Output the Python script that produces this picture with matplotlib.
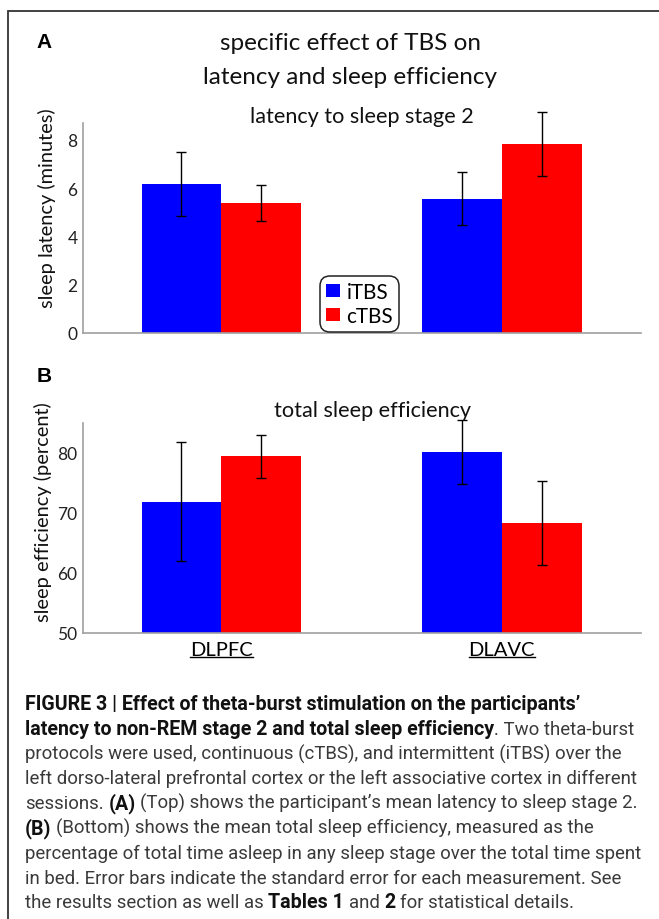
import matplotlib.pyplot as plt
from matplotlib.patches import Rectangle
from matplotlib.lines import Line2D
import numpy as np

groups = ['DLPFC', 'DLAVC']
protocols = ['iTBS', 'cTBS']
colors = ['#0000ff', '#ff0000']

# panel A: latency to stage 2 (minutes)
lat_itbs = [6.17, 5.55]
lat_ctbs = [5.37, 7.82]
lat_itbs_se = [1.34, 1.10]
lat_ctbs_se = [0.74, 1.33]

# panel B: total sleep efficiency (percent)
eff_itbs = [71.8, 80.1]
eff_ctbs = [79.3, 68.2]
eff_itbs_se = [9.85, 5.3]
eff_ctbs_se = [3.55, 6.95]

chart_font = 'Lato'
cap_font = 'Roboto'

W, H = 659, 920
fig = plt.figure(figsize=(W / 100, H / 100), dpi=100)
renderer = fig.canvas.get_renderer()


def fx(px):
    return px / W


def fy(py):
    return 1 - py / H


def text_w(s, size, family, bold=False):
    t = fig.text(0, 0, s, fontsize=size, family=family,
                 fontweight='bold' if bold else 'normal')
    wd = t.get_window_extent(renderer).width
    t.remove()
    return wd


def fit_size(s, target_px, family, bold=False):
    # font size that makes the string about as wide as in the reference
    return 10 * target_px / text_w(s, 10, family, bold)


# frame round the figure (right and bottom edges fall outside)
fig.patches.append(Rectangle((fx(8), -0.1), 1.2, fy(12) + 0.1, transform=fig.transFigure,
                             fill=False, ec='#333333', lw=1.3))

x = np.arange(len(groups))
w = 0.284


def draw_panel(ax, itbs, ctbs, itbs_se, ctbs_se, ylim, yticks):
    ax.bar(x - w / 2, itbs, w, color=colors[0], label=protocols[0])
    ax.bar(x + w / 2, ctbs, w, color=colors[1], label=protocols[1])
    ax.errorbar(x - w / 2, itbs, yerr=itbs_se, fmt='none', ecolor='black', elinewidth=1,
                capsize=3.5, capthick=1, clip_on=False)
    ax.errorbar(x + w / 2, ctbs, yerr=ctbs_se, fmt='none', ecolor='black', elinewidth=1,
                capsize=3.5, capthick=1, clip_on=False)
    ax.set_xlim(-0.493, 1.496)
    ax.set_ylim(*ylim)
    ax.set_yticks(yticks)
    for s in ['top', 'right']:
        ax.spines[s].set_visible(False)
    for s in ['left', 'bottom']:
        ax.spines[s].set_color('#a0a0a0')
        ax.spines[s].set_linewidth(1.2)
    ax.tick_params(length=0, labelsize=12.5, pad=4)
    for lab in ax.get_yticklabels():
        lab.set_family(chart_font)
        lab.set_color('#222222')


axA = fig.add_axes([fx(83), fy(334), fx(641) - fx(83), (334 - 124.3) / H])
draw_panel(axA, lat_itbs, lat_ctbs, lat_itbs_se, lat_ctbs_se, (0, 8.68), [0, 2, 4, 6, 8])
axA.set_xticks([])
leg_size = fit_size('iTBS', 42, chart_font)
leg = axA.legend(loc='lower center', bbox_to_anchor=(0.4955, 0.004),
                 prop={'family': chart_font, 'size': leg_size},
                 handlelength=0.7, handleheight=0.6, handletextpad=0.3, labelspacing=0.2,
                 borderpad=0.3, borderaxespad=0, fancybox=True, framealpha=1,
                 edgecolor='#222222')
leg.get_frame().set_linewidth(1.1)
leg.get_frame().set_boxstyle('round,pad=0,rounding_size=0.5')

axB = fig.add_axes([fx(83), fy(634), fx(641) - fx(83), (634 - 424) / H])
draw_panel(axB, eff_itbs, eff_ctbs, eff_itbs_se, eff_ctbs_se, (50, 84.85), [50, 60, 70, 80])
axB.set_xticks(x)
axB.set_xticklabels(groups, fontsize=14.5, family=chart_font)
axB.tick_params(axis='x', pad=6)

# titles and labels
title_size = fit_size('specific effect of TBS on', 261, chart_font)
sub_size = (fit_size('latency to sleep stage 2', 225, chart_font)
            + fit_size('total sleep efficiency', 196, chart_font)) / 2
ylab_size = (fit_size('sleep latency (minutes)', 201, chart_font)
             + fit_size('sleep efficiency (percent)', 220, chart_font)) / 2

fig.text(fx(44), fy(43), 'A', fontsize=15, fontweight='bold', family='Liberation Sans',
         ha='center', va='center')
fig.text(fx(44), fy(377), 'B', fontsize=15, fontweight='bold', family='Liberation Sans',
         ha='center', va='center')
fig.text(fx(351), fy(44), 'specific effect of TBS on', fontsize=title_size, family=chart_font,
         ha='center', va='center', color='#111111')
fig.text(fx(350), fy(78), 'latency and sleep efficiency', fontsize=title_size,
         family=chart_font, ha='center', va='center', color='#111111')
fig.text(fx(362), fy(117), 'latency to sleep stage 2', fontsize=sub_size, family=chart_font,
         ha='center', va='center', color='#111111')
fig.text(fx(372), fy(411), 'total sleep efficiency', fontsize=sub_size, family=chart_font,
         ha='center', va='center', color='#111111')
fig.text(fx(47), fy(208), 'sleep latency (minutes)', fontsize=ylab_size, family=chart_font,
         rotation=90, ha='center', va='center', color='#111111')
fig.text(fx(43), fy(512), 'sleep efficiency (percent)', fontsize=ylab_size, family=chart_font,
         rotation=90, ha='center', va='center', color='#111111')

# underline the x tick labels
for lab in axB.get_xticklabels():
    bb = lab.get_window_extent(renderer)
    yline = (bb.y0 + 1) / fig.bbox.height
    fig.lines.append(Line2D([bb.x0 / fig.bbox.width, bb.x1 / fig.bbox.width], [yline, yline],
                            transform=fig.transFigure, color='black', lw=1))

# caption with mixed bold / regular runs
caption = [
    [("FIGURE 3 | Effect of theta-burst stimulation on the participants\u2019", True)],
    [("latency to non-REM stage 2 and total sleep efficiency", True), (". Two theta-burst", False)],
    [("protocols were used, continuous (cTBS), and intermittent (iTBS) over the", False)],
    [("left dorso-lateral prefrontal cortex or the left associative cortex in different", False)],
    [("sessions. ", False), ("(A)", True),
     (" (Top) shows the participant\u2019s mean latency to sleep stage 2.", False)],
    [("(B)", True), (" (Bottom) shows the mean total sleep efficiency, measured as the", False)],
    [("percentage of total time asleep in any sleep stage over the total time spent", False)],
    [("in bed. Error bars indicate the standard error for each measurement. See", False)],
    [("the results section as well as ", False), ("Tables 1", True), (" and ", False),
     ("2", True), (" for statistical details.", False)],
]

cap_size = {False: fit_size(caption[6][0][0], 619, cap_font, False),
            True: fit_size(caption[0][0][0], 558, cap_font, True)}
space_w = {b: text_w('a a', cap_size[b], cap_font, b) - text_w('aa', cap_size[b], cap_font, b)
           for b in (True, False)}

for i, parts in enumerate(caption):
    xpix = 25
    ybase = 710 + 24.8 * i
    for s, bold in parts:
        lead = len(s) - len(s.lstrip(' '))
        trail = len(s) - len(s.rstrip(' '))
        core = s.strip(' ')
        xpix += lead * space_w[bold]
        fig.text(fx(xpix), fy(ybase), core, fontsize=cap_size[bold], family=cap_font,
                 fontweight='bold' if bold else 'normal',
                 color='#111111' if bold else '#3a3a3a', va='baseline')
        xpix += text_w(core, cap_size[bold], cap_font, bold) + trail * space_w[bold]

fig.savefig('out.png', dpi=100)
